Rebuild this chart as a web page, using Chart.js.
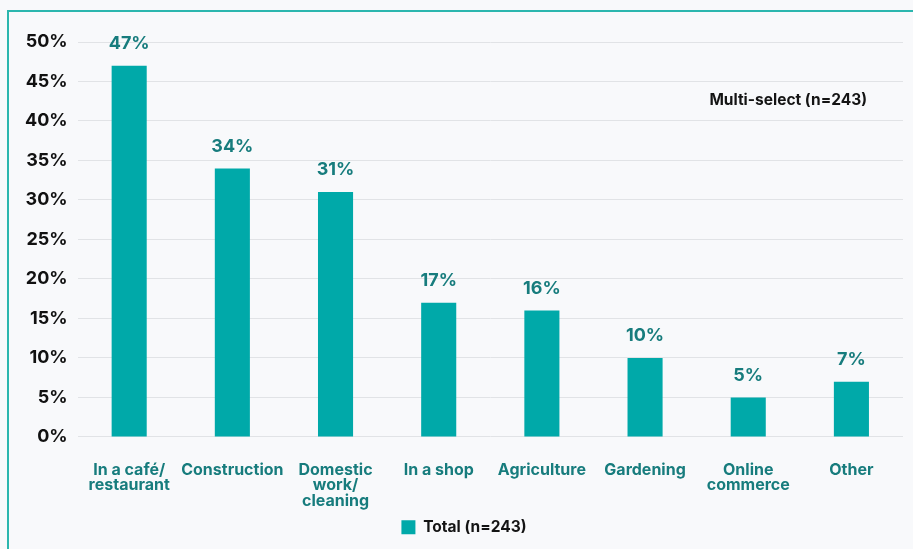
<!DOCTYPE html>
<html>
<head>
<meta charset="utf-8">
<script src="https://cdn.jsdelivr.net/npm/chart.js@4/dist/chart.umd.min.js"></script>
<style>
  html, body { margin: 0; padding: 0; background: #f8f9fb; overflow: hidden; }
  #frame {
    position: absolute; left: 7px; top: 10px; width: 1000px; height: 1000px;
    border-left: 2px solid #2bb6ae; border-top: 2px solid #2bb6ae;
  }
  #wrap { position: absolute; left: 0; top: 0; width: 913px; height: 549px; }
</style>
</head>
<body>
<div id="frame"></div>
<div id="wrap"><canvas id="c" width="913" height="549"></canvas></div>
<script>
// Where respondents worked (multi-select, n=243)
const categories = [
  ['In a café/', 'restaurant'],
  'Construction',
  ['Domestic', 'work/', 'cleaning'],
  'In a shop',
  'Agriculture',
  'Gardening',
  ['Online', 'commerce'],
  'Other'
];
const totalShare = [47, 34, 31, 17, 16, 10, 5, 7];
const seriesName = 'Total (n=243)';
const noteText = 'Multi-select (n=243)';

const FONT = 'Inter, "Noto Sans", sans-serif';
const BAR = '#00a9a9';
const LABEL = '#177c7d';

// Percent labels above each bar, taken from the bar elements themselves
const valueLabels = {
  id: 'valueLabels',
  afterDatasetsDraw(chart) {
    const ctx = chart.ctx;
    const meta = chart.getDatasetMeta(0);
    ctx.save();
    ctx.font = 'bold 18px ' + FONT;
    ctx.fillStyle = LABEL;
    ctx.textAlign = 'center';
    ctx.textBaseline = 'bottom';
    meta.data.forEach((bar, i) => {
      ctx.fillText(chart.data.datasets[0].data[i] + '%', bar.x, bar.y - 13);
    });
    // note in the upper right
    ctx.font = 'bold 15.5px ' + FONT;
    ctx.fillStyle = '#141414';
    ctx.textAlign = 'right';
    ctx.textBaseline = 'middle';
    ctx.fillText(noteText, chart.chartArea.right - 36, chart.scales.y.getPixelForValue(42.6));
    ctx.restore();
  }
};

new Chart(document.getElementById('c'), {
  type: 'bar',
  data: {
    labels: categories,
    datasets: [{
      label: seriesName,
      data: totalShare,
      backgroundColor: BAR,
      borderWidth: 0,
      barPercentage: 0.34,
      categoryPercentage: 1.0
    }]
  },
  options: {
    responsive: false,
    animation: false,
    layout: { padding: { left: 25, right: 10, top: 42, bottom: 4 } },
    scales: {
      y: {
        min: 0, max: 50,
        border: { display: false },
        grid: { color: '#e1e3e6', lineWidth: 1, drawTicks: false },
        afterFit: s => { s.width -= 10; },
        ticks: {
          stepSize: 5,
          padding: 10,
          color: '#111111',
          font: { family: FONT, size: 18, weight: 'bold' },
          callback: v => v + '%'
        }
      },
      x: {
        border: { display: false },
        grid: { display: false },
        afterFit: s => { s.height -= 14; },
        ticks: {
          padding: 17,
          color: LABEL,
          maxRotation: 0,
          autoSkip: false,
          font: { family: FONT, size: 16, weight: 'bold', lineHeight: 0.97 }
        }
      }
    },
    plugins: {
      legend: {
        position: 'bottom',
        labels: {
          boxWidth: 14, boxHeight: 14,
          padding: 8,
          color: '#141414',
          font: { family: FONT, size: 15.5, weight: 'bold' }
        }
      },
      tooltip: { enabled: false }
    }
  },
  plugins: [valueLabels]
});
</script>
</body>
</html>
